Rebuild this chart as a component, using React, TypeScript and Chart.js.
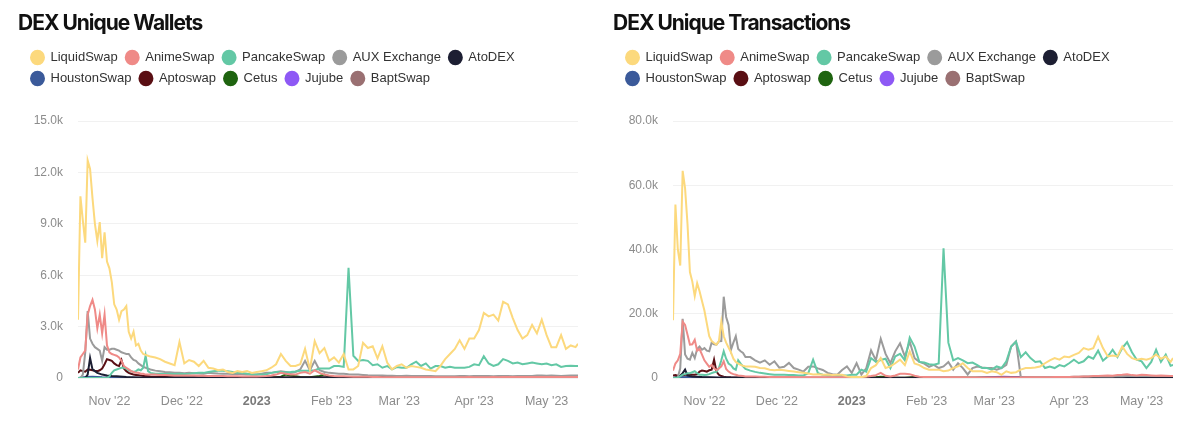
import React, { useEffect, useRef } from 'react';
import { Chart, registerables } from 'chart.js';

Chart.register(...registerables);

// ---------- shared x positions (days since 19 Oct 2022) ----------
const days = [
  0, 1, 2, 3, 4, 5, 6, 7, 8, 9,
  10, 11, 12, 13, 14, 15, 16, 17, 18, 19,
  20, 21, 22, 23, 24, 25, 26, 27, 28, 29,
  30, 32, 34, 36, 38, 40, 42, 44, 46, 48,
  50, 52, 54, 56, 58, 60, 62, 64, 66, 68,
  70, 72, 74, 76, 78, 80, 82, 84, 86, 88,
  90, 92, 94, 96, 98, 100, 102, 104, 106, 108,
  110, 112, 114, 116, 118, 120, 122, 124, 126, 128,
  130, 132, 134, 136, 138, 140, 142, 144, 146, 148,
  150, 152, 154, 156, 158, 160, 162, 164, 166, 168,
  170, 172, 174, 176, 178, 180, 182, 184, 186, 188,
  190, 192, 194, 196, 198, 200, 202, 204, 206, 207,
];
const earlyDays = [
  0, 1, 2, 3, 4, 5, 6, 7, 8, 9,
  10, 11, 12, 13, 14, 15, 16, 17, 18, 19,
  20, 21, 22, 23, 24, 25, 26, 27, 28, 29,
  30, 40, 60, 100, 150, 207,
];
const atoWalletDays = [0, 3, 4, 5, 6, 7, 8, 10, 12, 14, 16, 20, 25, 30, 60, 120, 207];
const atoTxDays = [0, 1, 2, 3, 4, 5, 6, 7, 8, 10, 12, 15, 20, 25, 30, 60, 207];
const houstonDays = [0, 3, 6, 10, 15, 20, 30, 207];
const cetusDays = [0, 60, 80, 84, 86, 88, 92, 96, 100, 102, 104, 110, 130, 207];
const jujubeDays = [0, 125, 130, 137, 140, 144, 150, 170, 207];
const baptDays = [0, 165, 175, 185, 195, 207];

// ---------- axis ticks ----------
const tickDays = [13, 43, 74, 105, 133, 164, 194];
const tickLabels = ["Nov '22", "Dec '22", '2023', "Feb '23", "Mar '23", "Apr '23", "May '23"];

// ---------- series ----------
const seriesNames = ['LiquidSwap', 'AnimeSwap', 'PancakeSwap', 'AUX Exchange', 'AtoDEX', 'HoustonSwap', 'Aptoswap', 'Cetus', 'Jujube', 'BaptSwap'];
const seriesColors = ['#fcd97d', '#ef8a87', '#63c8a5', '#9b9b9b', '#1d1f33', '#3b5a9a', '#5a0f14', '#1f6410', '#8e59f5', '#9a7072'];

// ---------- DEX Unique Wallets ----------
const walletsLiquid = [
  3400, 10600, 9200, 7900, 12700, 12200, 10500, 9000, 8000, 9100,
  7000, 8500, 6800, 6400, 5600, 4300, 4000, 3400, 3900, 4000,
  4200, 2700, 2300, 2700, 1900, 2000, 1600, 1400, 1350, 1300,
  1250, 1200, 1100, 950, 850, 750, 2100, 850, 1050, 950,
  700, 1000, 600, 550, 450, 500, 350, 300, 400, 350,
  400, 300, 350, 400, 450, 600, 800, 1400, 1000, 700,
  700, 800, 1700, 500, 2150, 1450, 1750, 1000, 1200, 900,
  1400, 500, 500, 700, 2050, 1750, 1850, 1150, 1850, 900,
  500, 700, 800, 600, 700, 650, 600, 500, 450, 400,
  700, 1100, 1400, 1700, 2200, 1700, 2300, 2300, 2800, 3800,
  3600, 3700, 3350, 4450, 4300, 3500, 2800, 2300, 2500, 3100,
  2600, 3400, 2500, 1800, 1800, 2500, 1700, 1900, 1800, 2000,
];
const walletsAnime = [
  500, 1200, 1400, 1600, 3700, 4200, 4560, 4000, 2900, 3700,
  2600, 3700, 1900, 1500, 1400, 1350, 1300, 1200, 1000, 700,
  600, 500, 400, 350, 300, 300, 250, 250, 200, 200,
  200, 200, 180, 170, 160, 150, 150, 150, 140, 140,
  130, 130, 120, 120, 110, 110, 100, 100, 100, 90,
  90, 90, 90, 100, 120, 150, 200, 300, 250, 200,
  200, 300, 350, 250, 450, 300, 200, 150, 120, 100,
  100, 90, 80, 80, 70, 70, 60, 60, 50, 50,
  40, 40, 40, 45, 40, 40, 45, 40, 40, 40,
  40, 45, 40, 40, 50, 50, 55, 50, 50, 50,
  50, 55, 50, 60, 60, 55, 60, 65, 60, 60,
  60, 65, 60, 60, 55, 60, 65, 60, 60, 60,
];
const walletsPancake = [
  0, 0, 0, 0, 0, 0, 0, 0, 0, 0,
  0, 0, 0, 100, 300, 450, 500, 550, 600, 600,
  550, 450, 400, 350, 400, 500, 450, 600, 1300, 400,
  300, 250, 250, 230, 250, 230, 250, 230, 250, 280,
  300, 300, 350, 400, 430, 420, 400, 350, 300, 300,
  250, 200, 200, 200, 220, 300, 350, 350, 330, 350,
  380, 420, 430, 430, 450, 550, 550, 550, 700, 700,
  650, 6430, 1300, 1000, 1050, 1000, 750, 800, 600, 700,
  500, 640, 600, 600, 800, 950, 700, 850, 550, 700,
  700, 600, 650, 600, 600, 600, 650, 800, 750, 1270,
  850, 700, 800, 1100, 1000, 850, 900, 800, 850, 900,
  850, 800, 850, 750, 800, 650, 700, 720, 700, 700,
];
const walletsAux = [
  0, 0, 200, 1500, 3900, 2300, 2000, 1800, 1700, 1600,
  1000, 1800, 1650, 1650, 1700, 1700, 1650, 1600, 1500, 1450,
  1400, 1400, 1200, 1050, 1000, 850, 750, 650, 600, 550,
  500, 430, 400, 350, 330, 300, 300, 280, 300, 280,
  260, 250, 300, 280, 260, 250, 250, 230, 250, 220,
  200, 220, 200, 250, 300, 300, 350, 400, 350, 300,
  350, 500, 1000, 450, 1000, 450, 350, 300, 280, 250,
  250, 220, 200, 200, 180, 160, 150, 150, 140, 130,
  130, 120, 120, 130, 120, 120, 110, 110, 110, 100,
  100, 100, 100, 100, 110, 110, 100, 110, 120, 110,
  110, 100, 110, 120, 110, 100, 110, 120, 110, 120,
  150, 140, 130, 140, 130, 120, 130, 140, 140, 140,
];
const walletsAto = [0, 0, 200, 1170, 500, 400, 300, 200, 150, 120, 100, 60, 30, 10, 10, 50, 60];
const walletsHouston = [0, 60, 80, 50, 30, 10, 0, 0];
const walletsAptoswap = [
  300, 450, 400, 370, 500, 480, 450, 420, 400, 450,
  550, 800, 1100, 1050, 1000, 850, 750, 700, 1050, 550,
  400, 300, 250, 200, 180, 160, 140, 120, 110, 100,
  90, 50, 30, 30, 25, 25,
];
const walletsCetus = [0, 0, 20, 80, 200, 150, 60, 50, 120, 200, 80, 40, 20, 20];
const walletsJujube = [0, 0, 30, 40, 40, 30, 30, 20, 20];
const walletsBapt = [0, 0, 60, 80, 70, 80];

// ---------- DEX Unique Transactions ----------
const txLiquid = [
  18000, 54000, 40000, 35000, 64500, 59000, 48000, 33000, 30000, 25500,
  29500, 27000, 24000, 21000, 17000, 13000, 11500, 10900, 10400, 11500,
  17500, 13000, 11000, 9500, 8000, 6000, 5000, 4500, 4100, 3800,
  3600, 3600, 3500, 3100, 3000, 2600, 2400, 2600, 2400, 2200,
  2000, 1800, 1600, 1400, 1100, 1200, 1000, 1100, 900, 1000,
  1000, 500, 300, 300, 300, 600, 3100, 4000, 6200, 3100,
  3600, 4600, 5700, 4000, 8300, 4500, 4000, 3100, 2600, 2600,
  2600, 2100, 2300, 3100, 3600, 4600, 3100, 2100, 2100, 2100,
  1600, 2100, 1800, 1000, 2100, 1600, 1800, 2600, 3100, 3100,
  3300, 3600, 4600, 5500, 6200, 5700, 6700, 6500, 7200, 7800,
  9300, 8800, 9300, 12800, 9300, 6700, 7000, 6700, 9800, 7500,
  6200, 5700, 6000, 5700, 6200, 7300, 6000, 6700, 5000, 6200,
];
const txAnime = [
  2300, 4500, 5500, 7500, 17500, 16500, 13500, 10400, 10500, 11900,
  8500, 9000, 7300, 5500, 4500, 3500, 4100, 3000, 2500, 3000,
  3600, 5200, 2800, 2000, 1500, 1200, 1000, 800, 700, 600,
  500, 500, 450, 400, 400, 350, 350, 300, 300, 300,
  300, 250, 250, 250, 250, 200, 200, 200, 200, 200,
  200, 200, 200, 250, 300, 400, 600, 900, 1600, 700,
  500, 800, 1300, 1300, 1200, 700, 400, 300, 300, 250,
  250, 200, 200, 200, 200, 200, 150, 150, 150, 150,
  150, 150, 150, 150, 150, 150, 150, 150, 200, 200,
  200, 200, 250, 250, 300, 300, 300, 350, 400, 400,
  450, 500, 600, 600, 700, 800, 700, 900, 1000, 1200,
  900, 800, 1000, 900, 800, 700, 800, 700, 600, 600,
];
const txPancake = [
  0, 0, 200, 500, 1000, 1200, 1500, 1500, 1800, 2100,
  1500, 1000, 1000, 900, 1000, 1200, 1500, 1800, 1900, 3100,
  5500, 8300, 6000, 4500, 4000, 3000, 2600, 5500, 4500, 3600,
  2800, 2300, 1900, 1600, 1400, 1200, 1000, 1000, 1000, 900,
  900, 800, 800, 1500, 5700, 1500, 1000, 800, 800, 700,
  800, 800, 1000, 1000, 2600, 2000, 6200, 5000, 5600, 6000,
  3100, 6700, 7500, 5500, 12600, 9800, 5000, 4800, 4300, 4100,
  4500, 40400, 11000, 5500, 6200, 5500, 4600, 4800, 4000, 3100,
  3100, 2600, 3600, 3100, 5200, 9800, 11300, 6500, 8000, 6200,
  5000, 5200, 3100, 3600, 3100, 4000, 3600, 4600, 5700, 4600,
  5200, 6700, 6000, 8500, 5400, 6700, 8800, 6500, 9300, 11200,
  8000, 5700, 5200, 3100, 5000, 8800, 5000, 7300, 3800, 4100,
];
const txAux = [
  0, 0, 200, 3000, 18400, 7300, 6000, 5700, 7800, 6200,
  9000, 9800, 8800, 9300, 8500, 8300, 11000, 10500, 10400, 11400,
  11500, 25300, 19000, 16500, 8800, 11000, 13000, 9000, 8300, 7800,
  6500, 6500, 5500, 4800, 5500, 4100, 5200, 3200, 3500, 4700,
  3100, 2600, 2000, 3500, 3600, 3000, 2500, 1600, 1200, 1000,
  2500, 3600, 1600, 4600, 1100, 3000, 8600, 5500, 12200, 7500,
  4600, 8300, 10800, 6700, 11300, 6200, 5000, 4500, 3500, 4100,
  3100, 3600, 5000, 2600, 4600, 3100, 1100, 3100, 3600, 3300,
  3100, 3100, 2600, 3100, 4100, 9800, 11400, 200, 200, 200,
  250, 250, 250, 300, 300, 300, 300, 350, 400, 400,
  450, 500, 450, 500, 500, 550, 500, 600, 550, 600,
  650, 600, 600, 650, 600, 650, 600, 650, 600, 600,
];
const txAto = [0, 200, 400, 700, 1500, 2600, 800, 600, 500, 400, 300, 200, 100, 60, 40, 20, 20];
const txHouston = [0, 200, 300, 200, 100, 50, 0, 0];
const txAptoswap = [
  800, 900, 700, 600, 800, 1000, 1000, 1000, 1000, 1000,
  1200, 2000, 2300, 2200, 2000, 2400, 2600, 5700, 2000, 1000,
  600, 400, 300, 250, 200, 180, 160, 150, 140, 130,
  120, 100, 80, 60, 50, 50,
];
const txCetus = [0, 0, 50, 200, 400, 300, 150, 100, 300, 250, 150, 100, 50, 50];
const txJujube = [0, 0, 200, 400, 350, 300, 150, 100, 100];
const txBapt = [0, 0, 300, 500, 400, 400];

type Series = { xs: number[]; ys: number[] };

const walletSeries: Series[] = [
  { xs: days, ys: walletsLiquid },
  { xs: days, ys: walletsAnime },
  { xs: days, ys: walletsPancake },
  { xs: days, ys: walletsAux },
  { xs: atoWalletDays, ys: walletsAto },
  { xs: houstonDays, ys: walletsHouston },
  { xs: earlyDays, ys: walletsAptoswap },
  { xs: cetusDays, ys: walletsCetus },
  { xs: jujubeDays, ys: walletsJujube },
  { xs: baptDays, ys: walletsBapt },
];
const txSeries: Series[] = [
  { xs: days, ys: txLiquid },
  { xs: days, ys: txAnime },
  { xs: days, ys: txPancake },
  { xs: days, ys: txAux },
  { xs: atoTxDays, ys: txAto },
  { xs: houstonDays, ys: txHouston },
  { xs: earlyDays, ys: txAptoswap },
  { xs: cetusDays, ys: txCetus },
  { xs: jujubeDays, ys: txJujube },
  { xs: baptDays, ys: txBapt },
];

const FONT = "'Liberation Sans', Arial, Helvetica, sans-serif";
const W = 595;
const H = 425;

const legendGap = {
  id: 'legendGap',
  beforeInit(chart: any) {
    const legend = chart.legend;
    if (!legend) return;
    const fit = legend.fit;
    legend.fit = function () {
      fit.call(this);
      this.height += 26;
    };
  },
};

function fmtK(v: number) {
  return v === 0 ? '0' : (v / 1000).toFixed(1) + 'k';
}

function DexChart({ title, series, yMax, yStep }: { title: string; series: Series[]; yMax: number; yStep: number }) {
  const ref = useRef<HTMLCanvasElement | null>(null);
  useEffect(() => {
    if (!ref.current) return;
    const chart = new Chart(ref.current, {
      type: 'line',
      data: {
        datasets: series.map((s, i) => ({
          label: seriesNames[i],
          data: s.xs.map((x, j) => ({ x, y: s.ys[j] })),
          borderColor: seriesColors[i],
          backgroundColor: seriesColors[i],
          borderWidth: 2,
          pointRadius: 0,
          tension: 0,
          fill: false,
        })),
      },
      options: {
        animation: false,
        responsive: false,
        maintainAspectRatio: false,
        layout: { padding: { top: 43, left: 23, right: 17, bottom: 0 } },
        plugins: {
          title: { display: false },
          tooltip: { enabled: false },
          legend: {
            display: true,
            position: 'top',
            align: 'start',
            labels: {
              usePointStyle: true,
              pointStyle: 'circle',
              pointStyleWidth: 13,
              boxHeight: 9.5,
              padding: 8,
              color: '#333',
              font: { family: FONT, size: 13 },
            },
          },
        },
        scales: {
          x: {
            type: 'linear',
            min: 0,
            max: 207,
            grid: { display: false, drawTicks: false },
            border: { display: false },
            afterBuildTicks: (scale: any) => {
              scale.ticks = tickDays.map((v) => ({ value: v }));
            },
            ticks: {
              autoSkip: false,
              maxRotation: 0,
              padding: 16,
              callback: (_v: any, idx: number) => tickLabels[idx],
              color: (ctx: any) => (tickLabels[ctx.index] === '2023' ? '#7a7a7a' : '#8c8c8c'),
              font: (ctx: any) =>
                tickLabels[ctx.index] === '2023'
                  ? { family: FONT, size: 12.5, weight: 'bold' }
                  : { family: FONT, size: 12.5 },
            },
          },
          y: {
            type: 'linear',
            min: 0,
            max: yMax,
            grid: { color: '#f1f1f1', drawTicks: false, lineWidth: 1 },
            border: { display: false },
            afterFit: (scale: any) => {
              scale.width = 55;
            },
            ticks: {
              stepSize: yStep,
              padding: 15,
              color: '#8c8c8c',
              font: { family: FONT, size: 12 },
              callback: (v: any) => fmtK(Number(v)),
            },
          },
        },
      } as any,
      plugins: [legendGap],
    });
    return () => chart.destroy();
  }, []);
  return (
    <div style={{ position: 'relative', width: W, height: H, flex: '0 0 auto' }}>
      <div
        style={{
          position: 'absolute',
          left: 18,
          top: 12,
          fontFamily: 'Inter, sans-serif',
          fontWeight: 700,
          fontSize: 21,
          lineHeight: '21px',
          letterSpacing: '-1px',
          color: '#111',
          whiteSpace: 'nowrap',
          zIndex: 1,
        }}
      >
        {title}
      </div>
      <canvas ref={ref} width={W} height={H} style={{ display: 'block', width: W, height: H }} />
    </div>
  );
}

export default function App() {
  return (
    <div
      style={{
        position: 'fixed',
        left: 0,
        top: 0,
        width: 1200,
        height: 425,
        background: '#fff',
        display: 'flex',
        flexDirection: 'row',
        overflow: 'hidden',
      }}
    >
      <DexChart title="DEX Unique Wallets" series={walletSeries} yMax={15000} yStep={3000} />
      <DexChart title="DEX Unique Transactions" series={txSeries} yMax={80000} yStep={20000} />
    </div>
  );
}
